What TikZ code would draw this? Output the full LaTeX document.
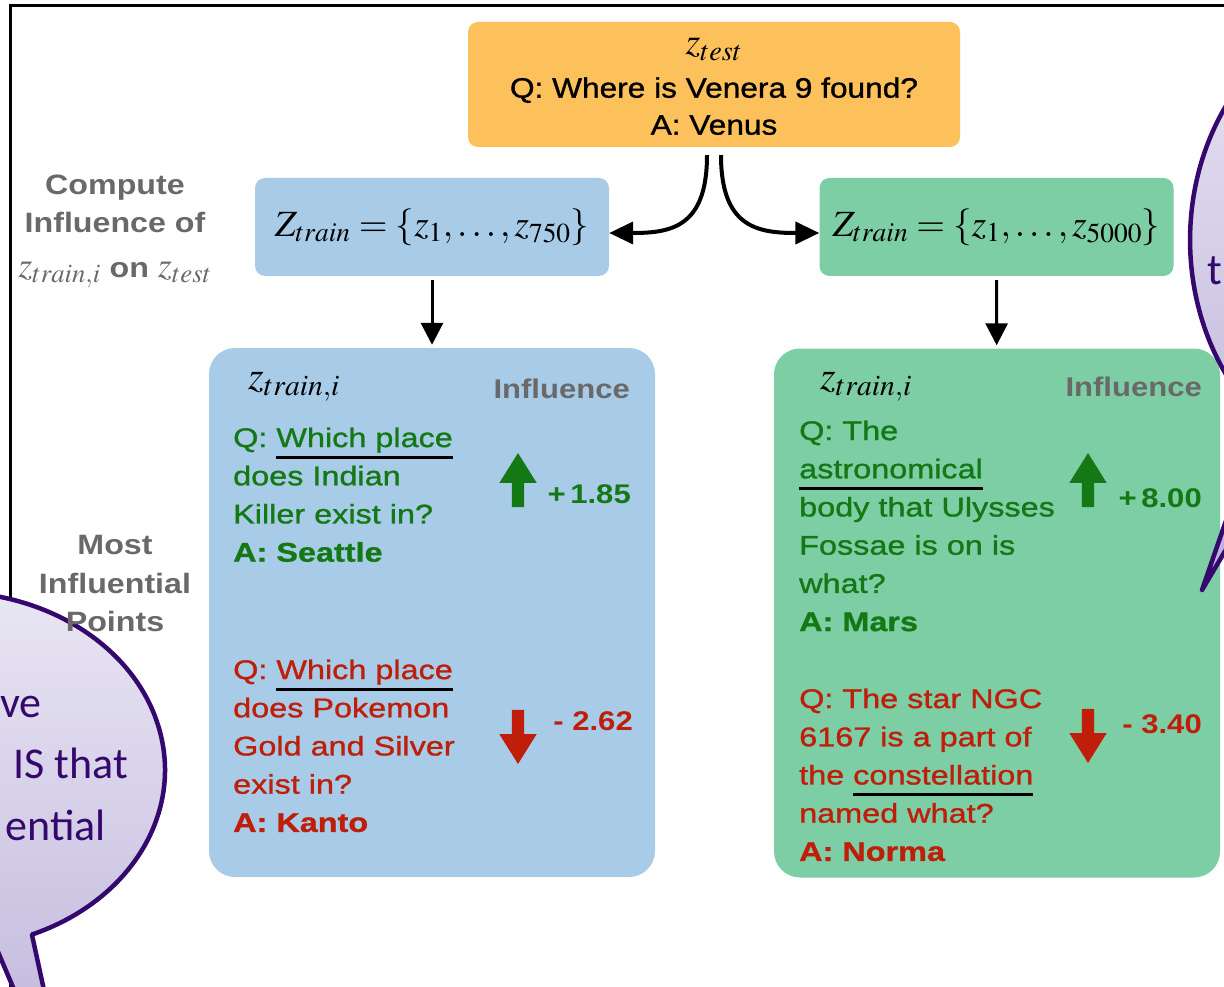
\documentclass[tikz,border=0pt]{standalone}
\usepackage{mathptmx}
\usepackage{fontspec}
\setmainfont[FakeStretch=1.15]{Liberation Sans}
\newfontfamily\questionfont[FakeStretch=1.2,FakeBold=1.1]{Liberation Sans}
\newfontfamily\testfont[FakeStretch=1.13,FakeBold=1.1]{Liberation Sans}
\newfontfamily\bubblefont{Carlito}
\usetikzlibrary{arrows.meta,shapes.arrows,positioning}

\definecolor{testorange}{RGB}{252,193,91}
\definecolor{setblue}{RGB}{168,204,231}
\definecolor{setgreen}{RGB}{125,205,165}
\definecolor{posgreen}{RGB}{20,120,20}
\definecolor{negred}{RGB}{190,30,10}
\definecolor{labelgray}{RGB}{105,105,105}
\definecolor{bubbleline}{RGB}{52,8,108}
\definecolor{bubbletop}{RGB}{234,231,244}
\definecolor{bubblebot}{RGB}{186,176,216}

\newsavebox{\kwbox}
\newcommand{\keyword}[1]{\sbox{\kwbox}{#1}\rlap{\color{black}\rule[-12pt]{\wd\kwbox}{3.5pt}}\usebox{\kwbox}}
\newcommand{\bigmath}[1]{{\fontsize{38}{40}\selectfont$#1$}}

\begin{document}
\begin{tikzpicture}[
        x=1pt, y=-1pt,
        box/.style={rounded corners=10pt, inner sep=0pt},
        testbox/.style={box, fill=testorange, minimum width=492pt, minimum height=125pt},
        testtext/.style={align=center, inner sep=0pt, font=\testfont\fontsize{28}{37}\selectfont},
        setbox/.style={box, minimum width=354pt, minimum height=98pt, font=\fontsize{37}{40}\selectfont},
        pointbox/.style={rounded corners=26pt, minimum width=446pt, minimum height=529pt},
        sidelabel/.style={text=labelgray, align=center, font=\bfseries\fontsize{28}{38.5}\selectfont},
        pointhead/.style={anchor=base west, inner sep=0pt, font=\fontsize{40}{44}\selectfont},
        inflhead/.style={anchor=base east, inner sep=0pt, text=labelgray, font=\bfseries\fontsize{27}{32}\selectfont},
        qtext/.style={anchor=north west, inner sep=0pt, align=left, font=\questionfont\fontsize{27}{38.2}\selectfont},
        score/.style={anchor=base east, inner sep=0pt, font=\bfseries\fontsize{27}{32}\selectfont},
        blockarrow/.style={single arrow, draw=none, inner sep=6pt, minimum height=54pt,
            single arrow head extend=12.5pt, single arrow tip angle=64},
        uparrow/.style={blockarrow, fill=posgreen, shape border rotate=90},
        downarrow/.style={blockarrow, fill=negred, shape border rotate=270},
        bigarrow/.style={-{Triangle[width=22pt,length=24pt]}, line width=4pt},
        arrow/.style={-{Triangle[width=22pt,length=22pt]}, line width=3pt},
        bubble/.style={draw=bubbleline, line width=4.5pt, line join=round, top color=bubbletop, bottom color=bubblebot},
        bubbletext/.style={inner sep=0pt, text=bubbleline, font=\bubblefont\fontsize{44}{61}\selectfont},
    ]
    \useasboundingbox (0,0) rectangle (1224,987);
    \clip (0,0) rectangle (1224,987);

    % Frame
    \draw[line width=3pt] (10,987) |- (1224,6);

    % Test point and training sets
    \node[testbox] (test) at (714,84.5) {};
    \node[testtext] (testqa) at (714,86.5) {\bigmath{z_{test}}\\[6pt]Q: Where is Venera 9 found?\\A: Venus};
    \node[setbox, fill=setblue] (trainA) at (432,227) {$Z_{train}=\{z_1,\ldots,z_{750}\}$};
    \node[setbox, fill=setgreen] (trainB) at (996.5,227) {$Z_{train}=\{z_1,\ldots,z_{5000}\}$};

    \node[pointbox, fill=setblue] (setA) at (432,612.5) {};
    \node[pointbox, fill=setgreen] (setB) at (997,613) {};

    \draw[bigarrow] ([shift={(-7,8)}]test.south) .. controls +(0,72) and +(62,0) .. ([yshift=-6pt]trainA.east);
    \draw[bigarrow] ([shift={(7,8)}]test.south) .. controls +(0,72) and +(-62,0) .. ([yshift=-6pt]trainB.west);
    \draw[arrow, shorten <=4pt, shorten >=3pt] (trainA) -- (setA);
    \draw[arrow, shorten <=4pt, shorten >=3pt] (trainB) -- (setB);

    % Most influential points, 750 examples
    \node[pointhead] (zA) at (248,389) {$z_{train,i}$};
    \node[inflhead] (inflA) at (630,398) {Influence};
    \node[qtext, text=posgreen] (posA) at (233,427.3) {Q: \keyword{Which place}\\does Indian\\Killer exist in?\\\textbf{A: Seattle}};
    \node[uparrow] (upA) at (518,485) {};
    \node[score, text=posgreen] (scoreposA) at (631,503) {+\,1.85};
    \node[qtext, text=negred] (negA) at (233,659.3) {Q: \keyword{Which place}\\does Pokemon\\Gold and Silver\\exist in?\\\textbf{A: Kanto}};
    \node[downarrow] (downA) at (518,732) {};
    \node[score, text=negred] (scorenegA) at (633,730) {- 2.62};

    % Most influential points, 5000 examples
    \node[pointhead] (zB) at (820,389) {$z_{train,i}$};
    \node[inflhead] (inflB) at (1202,396) {Influence};
    \node[qtext, text=posgreen] (posB) at (799,420.3) {Q: The\\\keyword{astronomical}\\body that Ulysses\\Fossae is on is\\what?\\\textbf{A: Mars}};
    \node[uparrow] (upB) at (1088,485) {};
    \node[score, text=posgreen] (scoreposB) at (1202,507) {+\,8.00};
    \node[qtext, text=negred] (negB) at (799,688.3) {Q: The star NGC\\6167 is a part of\\the \keyword{constellation}\\named what?\\\textbf{A: Norma}};
    \node[downarrow] (downB) at (1088,731) {};
    \node[score, text=negred] (scorenegB) at (1202,733) {- 3.40};

    % Callouts
    \draw[bubble] (-5.3,944.1) arc[start angle=78, end angle=427.6, x radius=215, y radius=178] -- (75,1133) -- cycle;
    \node[bubbletext, anchor=base west] (calloutA1) at (0,717) {ve};
    \node[bubbletext, anchor=base east] (calloutA2) at (128,778) {IS that};
    \node[bubbletext, anchor=base east] (calloutA3) at (106,840) {ential};

    \draw[bubble] (1260.9,419.8) arc[start angle=131.5, end angle=482, x radius=210, y radius=240] -- (1202,590) -- cycle;
    \node[bubbletext, anchor=base west] (calloutB1) at (1207,284) {t};

    % Labels
    \node[sidelabel, anchor=north] (compute) at (115,171) {Compute\\Influence of\\[6pt]{\fontsize{36}{40}\selectfont$z_{train,i}$} on {\fontsize{36}{40}\selectfont$z_{test}$}};
    \node[sidelabel, anchor=north] (most) at (115,532) {Most\\Influential\\Points};

\end{tikzpicture}
\end{document}
